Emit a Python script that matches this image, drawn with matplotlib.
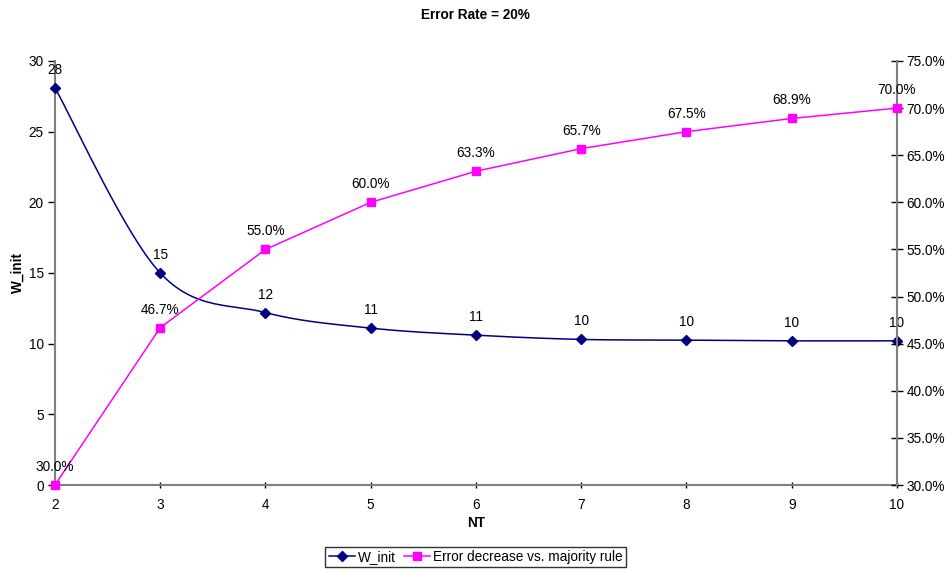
import numpy as np
import matplotlib
matplotlib.use("Agg")
import matplotlib.pyplot as plt
from matplotlib.lines import Line2D
from matplotlib.ticker import FuncFormatter, MultipleLocator

plt.rcParams['font.family'] = ['Liberation Sans', 'DejaVu Sans']

nt = [2, 3, 4, 5, 6, 7, 8, 9, 10]
w_init = [28.1, 15.0, 12.2, 11.1, 10.6, 10.3, 10.25, 10.2, 10.2]
err_decrease = [30.0, 46.7, 55.0, 60.0, 63.3, 65.7, 67.5, 68.9, 70.0]

NAVY = '#000080'
MAGENTA = '#FF00FF'
GRAY = '#808080'
FS = 9.8


def smooth(xs, ys, n=30):
    """Bezier smoothing through every point (Catmull-Rom style tangents)."""
    P = np.column_stack([xs, ys]).astype(float)
    out = []
    for i in range(len(P) - 1):
        p0 = P[i - 1] if i > 0 else P[i]
        p1, p2 = P[i], P[i + 1]
        p3 = P[i + 2] if i + 2 < len(P) else P[i + 1]
        c1 = p1 + (p2 - p0) / 6.0
        c2 = p2 - (p3 - p1) / 6.0
        t = np.linspace(0, 1, n)[:, None]
        seg = ((1 - t) ** 3) * p1 + 3 * ((1 - t) ** 2) * t * c1 + 3 * (1 - t) * t ** 2 * c2 + t ** 3 * p2
        out.append(seg if i == 0 else seg[1:])
    s = np.vstack(out)
    return s[:, 0], s[:, 1]


fig = plt.figure(figsize=(9.46, 5.71), dpi=100)
ax = fig.add_axes([0.0581, 0.1506, 0.8901, 0.7426])
ax2 = ax.twinx()

# left axis: W_init (smoothed line)
sx, sy = smooth(nt, w_init)
ax.plot(sx, sy, color=NAVY, lw=1.1, zorder=3)
ax.plot(nt, w_init, linestyle='none', marker='D', ms=5, color=NAVY, zorder=4, clip_on=False)
for x, y in zip(nt, w_init):
    ax.annotate(f"{y:.0f}", (x, y), xytext=(0, 13), textcoords='offset points',
                ha='center', va='center', fontsize=FS, color='black')

# right axis: error decrease (straight segments)
ax2.plot(nt, err_decrease, color=MAGENTA, lw=1.1, marker='s', ms=5.5,
         zorder=3, clip_on=False)
for x, y in zip(nt, err_decrease):
    ax2.annotate(f"{y:.1f}%", (x, y), xytext=(0, 13), textcoords='offset points',
                 ha='center', va='center', fontsize=FS, color='black')

ax.set_xlim(2, 10)
ax.set_ylim(0, 30)
ax2.set_ylim(30, 75)
ax.xaxis.set_major_locator(MultipleLocator(1))
ax.yaxis.set_major_locator(MultipleLocator(5))
ax2.yaxis.set_major_locator(MultipleLocator(5))
ax2.yaxis.set_major_formatter(FuncFormatter(lambda v, p: f"{v:.1f}%"))

for a in (ax, ax2):
    a.spines['top'].set_visible(False)
    for s in ('left', 'right', 'bottom'):
        a.spines[s].set_color(GRAY)
        a.spines[s].set_linewidth(1.5)
ax.spines['right'].set_visible(False)
ax2.spines['left'].set_visible(False)
ax2.spines['bottom'].set_visible(False)

ax.tick_params(axis='y', direction='out', length=5, width=1, color='black', labelsize=FS, pad=3)
ax.tick_params(axis='x', direction='inout', length=5, width=1, color='black', labelsize=FS, pad=7)
ax2.tick_params(axis='y', direction='inout', length=8, width=1, color='black', labelsize=FS, pad=3)

ax.set_xlabel('NT', fontsize=FS, fontweight='bold', labelpad=3)
ax.set_ylabel('W_init', fontsize=FS, fontweight='bold', labelpad=3)
fig.text(0.503, 0.973, 'Error Rate = 20%', ha='center', va='center', fontsize=FS, fontweight='bold')

handles = [
    Line2D([], [], color=NAVY, marker='D', ms=5, lw=1.1),
    Line2D([], [], color=MAGENTA, marker='s', ms=5.5, lw=1.1),
]
leg = fig.legend(handles, ['W_init', 'Error decrease vs. majority rule'],
                 loc='center', bbox_to_anchor=(0.503, 0.0245), ncol=2, fontsize=FS,
                 frameon=True, fancybox=False, edgecolor='black', handlelength=1.9,
                 handletextpad=0.25, columnspacing=0.6, borderpad=0.25, borderaxespad=0)
leg.get_frame().set_linewidth(1.0)

fig.savefig('out.png', dpi=100)
